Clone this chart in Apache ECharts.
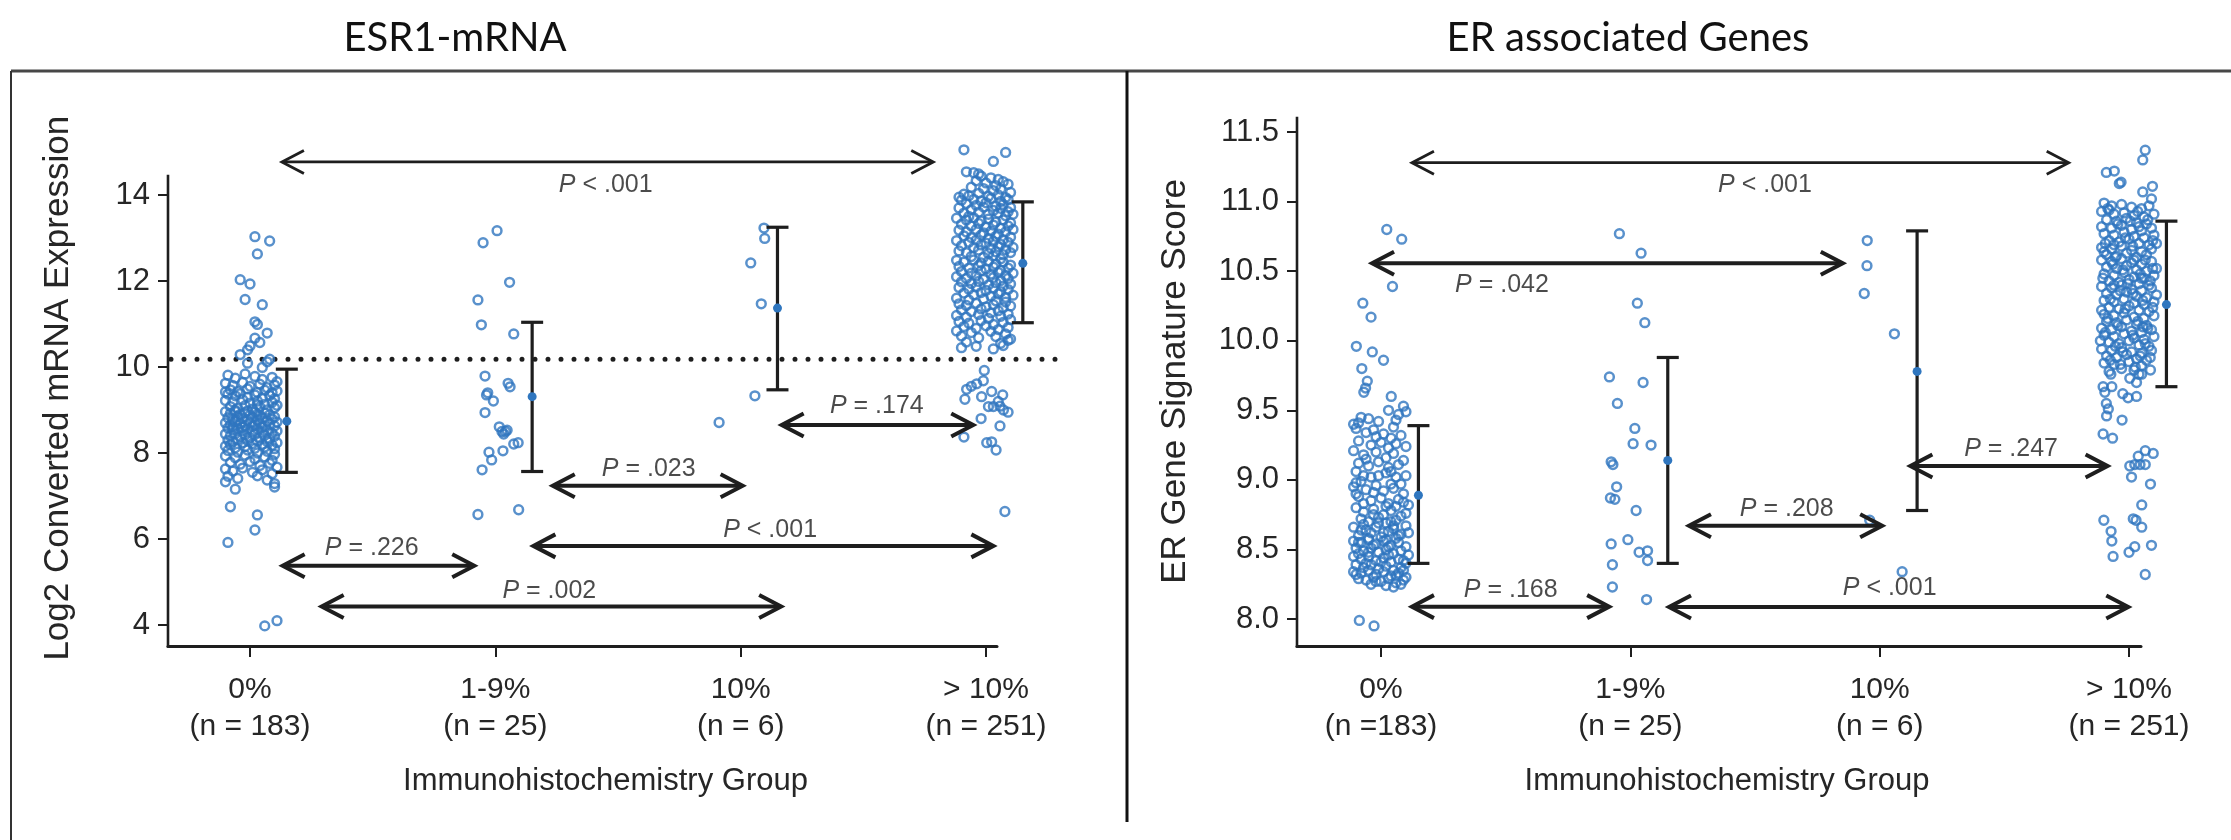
<!DOCTYPE html>
<html>
<head>
<meta charset="utf-8">
<script src="https://cdn.jsdelivr.net/npm/echarts@6/dist/echarts.min.js"></script>
<style>
  html, body { margin: 0; padding: 0; background: #fff; }
  #chart { width: 2231px; height: 840px; }
</style>
</head>
<body>
<div id="chart"></div>
<script>
// ---------- categories and tick labels ----------
const groupNames = ['0%', '1-9%', '10%', '> 10%'];
const esrCounts = ['(n = 183)', '(n = 25)', '(n = 6)', '(n = 251)'];
const erCounts = ['(n =183)', '(n = 25)', '(n = 6)', '(n = 251)'];
const esrTicks = [4, 6, 8, 10, 12, 14];
const erTicks = [8.0, 8.5, 9.0, 9.5, 10.0, 10.5, 11.0, 11.5];

// ---------- ESR1-mRNA: per-sample values as [jitter, log2 expression] ----------
const esrPct0 = [
  [0.02,13.03],[0.08,12.93],[0.03,12.63],[-0.04,12.03],[0.00,11.93],[-0.02,11.57],[0.05,11.45],[0.02,11.05],[0.03,10.99],[0.07,10.79],
  [0.02,10.67],[0.04,10.57],[0.00,10.49],[-0.01,10.40],[-0.04,10.29],[-0.01,10.09],[0.08,10.18],[0.05,9.99],[0.07,10.12],
  [-0.09,9.81],[-0.06,9.74],[-0.02,9.84],[0.02,9.78],[0.05,9.71],[0.09,9.76],[0.11,9.66],[-0.10,9.62],[-0.07,9.57],[-0.03,9.64],
  [0.00,9.55],[0.04,9.60],[0.07,9.52],[0.10,9.58],[-0.08,9.47],[-0.05,9.43],[-0.01,9.49],[0.03,9.41],[0.06,9.46],[0.09,9.40],[0.11,9.44],[-0.10,9.42],
  [-0.09,9.37],[-0.06,9.33],[-0.04,9.38],[-0.01,9.30],[0.02,9.35],[0.05,9.28],[0.08,9.34],[0.10,9.26],[-0.10,9.22],[-0.07,9.19],
  [-0.03,9.24],[0.00,9.16],[0.03,9.21],[0.06,9.13],[0.09,9.18],[0.11,9.11],[-0.08,9.08],[-0.05,9.04],[-0.02,9.10],[0.01,9.02],
  [0.04,9.07],[0.07,9.00],[0.10,9.05],[-0.06,8.99],[0.03,9.12],
  [-0.10,8.96],[-0.08,8.92],[-0.06,8.97],[-0.04,8.90],[-0.02,8.94],[0.00,8.88],[0.02,8.95],[0.04,8.86],[0.06,8.93],[0.08,8.89],[0.10,8.84],
  [-0.09,8.82],[-0.07,8.78],[-0.05,8.85],[-0.03,8.80],[-0.01,8.76],[0.01,8.83],[0.03,8.77],[0.05,8.81],[0.07,8.74],[0.09,8.79],[0.11,8.72],
  [-0.10,8.70],[-0.08,8.66],[-0.06,8.73],[-0.04,8.68],[-0.02,8.64],[0.00,8.71],[0.02,8.65],[0.04,8.69],[0.06,8.62],[0.08,8.67],[0.10,8.63],
  [-0.07,8.61],[-0.03,8.60],[0.01,8.62],[0.05,8.60],[-0.05,8.75],[0.03,8.90],[-0.01,8.98],
  [-0.09,8.58],[-0.07,8.54],[-0.05,8.57],[-0.03,8.52],[-0.01,8.56],[0.01,8.50],[0.03,8.55],[0.05,8.48],[0.07,8.53],[0.09,8.46],[0.11,8.51],
  [-0.10,8.44],[-0.08,8.40],[-0.06,8.45],[-0.04,8.38],[-0.02,8.42],[0.00,8.36],[0.02,8.43],[0.04,8.35],[0.06,8.41],[0.08,8.33],[0.10,8.39],
  [-0.09,8.30],[-0.07,8.26],[-0.05,8.32],[-0.03,8.24],[-0.01,8.29],[0.01,8.22],[0.03,8.28],[0.05,8.20],[0.07,8.27],[0.09,8.18],[0.11,8.24],
  [-0.10,8.16],[-0.06,8.12],[-0.02,8.15],[0.02,8.11],[0.06,8.14],[0.10,8.10],[-0.08,8.19],
  [-0.09,8.06],[-0.05,8.02],[-0.01,8.07],[0.03,8.00],[0.07,8.04],[0.10,7.97],[-0.10,7.93],[-0.06,7.89],[-0.02,7.95],[0.02,7.86],
  [0.06,7.91],[0.09,7.83],[-0.08,7.78],[-0.04,7.74],[0.00,7.80],[0.04,7.71],[0.08,7.76],[0.11,7.67],[-0.10,7.63],[-0.07,7.58],
  [-0.03,7.65],[0.01,7.55],[0.05,7.61],[0.09,7.52],[-0.09,7.46],[-0.05,7.41],[0.03,7.47],[0.07,7.37],[0.10,7.29],[-0.10,7.33],[0.10,7.21],
  [-0.06,7.16],[-0.08,6.75],[0.03,6.56],[0.02,6.21],[-0.09,5.92],[0.06,3.98],[0.11,4.10]
];
const esrPct1to9 = [
  [0.007,13.17],[-0.05,12.89],[0.058,11.97],[-0.071,11.56],[-0.057,10.98],[0.075,10.77],[-0.042,9.79],[0.052,9.62],[0.060,9.54],
  [-0.036,9.35],[-0.031,9.40],[-0.008,9.21],[-0.042,8.94],[0.016,8.61],[0.027,8.50],[0.041,8.50],[0.048,8.53],[0.034,8.44],
  [0.075,8.21],[0.093,8.24],[-0.026,8.02],[-0.015,7.84],[0.031,8.05],[-0.054,7.61],[-0.071,6.57],[0.095,6.68]
];
const esrPct10 = [
  [0.095,13.23],[0.098,12.99],[0.041,12.42],[0.084,11.47],[0.058,9.33],[-0.088,8.71]
];
const esrPctOver10 = [
  [-0.09,15.05],[0.08,14.99],[0.03,14.78],[-0.08,14.54],[-0.05,14.52],[-0.03,14.49],
  [-0.02,14.44],[0.02,14.40],[0.05,14.36],[0.07,14.31],[0.09,14.25],[-0.04,14.33],[0.00,14.28],[0.04,14.22],[-0.06,14.18],[-0.01,14.15],
  [0.03,14.10],[0.06,14.14],[0.10,14.06],[-0.09,14.02],[-0.11,13.95],[-0.07,13.98],[-0.03,14.04],[0.01,13.97],[0.05,14.00],[0.08,13.94],
  [-0.10,13.88],[-0.05,13.90],[-0.02,13.86],[0.02,13.92],[0.06,13.85],[0.09,13.89],[-0.08,13.80],[-0.04,13.76],[0.00,13.82],[0.04,13.74],
  [0.07,13.78],[0.10,13.71],[-0.11,13.70],[-0.06,13.66],[-0.01,13.72],[0.03,13.64],[0.06,13.69],[0.09,13.61],[-0.09,13.58],[-0.03,13.60],
  [0.01,13.55],[0.05,13.58],[0.08,13.52],[-0.07,13.50],[0.11,13.55],
  [-0.12,13.46],[-0.08,13.42],[-0.05,13.47],[-0.02,13.40],[0.01,13.44],[0.04,13.37],[0.07,13.42],[0.10,13.35],[-0.10,13.32],[-0.06,13.28],
  [-0.03,13.34],[0.00,13.26],[0.03,13.30],[0.06,13.23],[0.09,13.28],[0.11,13.20],[-0.11,13.18],[-0.08,13.14],[-0.04,13.20],[-0.01,13.12],
  [0.02,13.16],[0.05,13.09],[0.08,13.14],[-0.09,13.05],[-0.06,13.01],[-0.02,13.07],[0.01,12.99],[0.04,13.04],[0.07,12.96],[0.10,13.02],
  [-0.12,12.94],[-0.07,12.90],[-0.04,12.95],[0.00,12.88],[0.03,12.92],[0.06,12.85],[0.09,12.90],[-0.10,12.82],[-0.05,12.78],[-0.02,12.84],
  [0.02,12.76],[0.05,12.80],[0.08,12.73],[0.11,12.78],[-0.11,12.70],[-0.08,12.66],[-0.03,12.72],[0.01,12.64],[0.04,12.68],[0.07,12.61],
  [0.10,12.66],[-0.06,12.57],[-0.01,12.55],[0.03,12.58],[0.06,12.52],
  [-0.12,12.48],[-0.09,12.44],[-0.05,12.49],[-0.02,12.42],[0.01,12.46],[0.04,12.39],[0.07,12.44],[0.10,12.37],[-0.11,12.34],[-0.07,12.30],
  [-0.03,12.36],[0.00,12.28],[0.03,12.32],[0.06,12.25],[0.09,12.30],[-0.10,12.22],[-0.06,12.18],[-0.02,12.24],[0.02,12.16],[0.05,12.20],
  [0.08,12.13],[0.11,12.18],[-0.12,12.10],[-0.08,12.06],[-0.04,12.12],[-0.01,12.04],[0.03,12.08],[0.06,12.01],[0.09,12.06],[-0.10,11.98],
  [-0.06,11.94],[-0.03,11.99],[0.01,11.91],[0.04,11.96],[0.07,11.88],[0.10,11.93],[-0.11,11.85],[-0.07,11.81],[-0.04,11.86],[0.00,11.78],
  [0.03,11.83],[0.06,11.75],[0.09,11.80],[-0.09,11.72],[-0.05,11.68],[-0.02,11.73],[0.02,11.65],[0.05,11.70],[0.08,11.62],[0.11,11.67],
  [-0.12,11.60],[-0.07,11.56],[-0.01,11.58],[0.04,11.54],[0.08,11.51],
  [-0.11,11.47],[-0.08,11.43],[-0.04,11.48],[0.00,11.40],[0.03,11.45],[0.07,11.38],[0.10,11.42],[-0.10,11.33],[-0.06,11.29],[-0.02,11.35],
  [0.02,11.26],[0.05,11.31],[0.09,11.23],[-0.12,11.20],[-0.08,11.16],[-0.03,11.22],[0.01,11.13],[0.06,11.18],[0.10,11.10],[-0.11,11.06],
  [-0.07,11.02],[-0.02,11.08],[0.03,10.99],[0.07,11.04],[-0.09,10.94],[-0.04,10.90],[0.00,10.96],[0.05,10.87],[0.09,10.92],[-0.12,10.84],
  [-0.06,10.80],[0.02,10.83],[0.08,10.77],[-0.10,10.72],[-0.03,10.68],[0.04,10.71],[0.10,10.65],[-0.08,10.58],[0.06,10.55],[0.09,10.62],
  [-0.04,10.48],[0.03,10.42],[0.07,10.50],[-0.10,10.45],
  [-0.007,9.92],[-0.038,9.61],[-0.011,9.68],[-0.079,9.48],[-0.086,9.25],[-0.018,9.31],[0.023,9.43],[0.068,9.35],[0.010,9.08],[0.030,9.08],
  [0.057,9.09],[0.071,9.00],[0.057,8.63],[-0.090,8.37],[0.003,8.24],[0.041,8.07],[0.023,8.26],[0.077,6.64],[-0.06,9.55],[0.05,9.20],
  [0.09,8.95],[-0.02,8.80]
];
// mean and spread per group: [mean, low, high]
const esrSummary = [[8.74, 7.55, 9.95], [9.31, 7.57, 11.04], [11.37, 9.47, 13.25], [12.41, 11.03, 13.84]];
const esrCutoff = 10.18;
// pairwise comparisons: [from, to, level, relation, p]
const esrTests = [
  [1.13, 3.785, 14.77, '<', '.001'],
  [1.133, 1.914, 5.38, '=', '.226'],
  [1.292, 3.165, 4.43, '=', '.002'],
  [2.234, 3.008, 7.24, '=', '.023'],
  [2.155, 4.03, 5.84, '<', '.001'],
  [3.167, 3.948, 8.65, '=', '.174']
];
// where each p-value label sits: [x, y]
const esrTestLabels = [[2.45, 14.23], [1.496, 5.79], [2.22, 4.79], [2.625, 7.63], [3.12, 6.21], [3.555, 9.09]];

// ---------- ER associated genes: [jitter, signature score] ----------
const erPct0 = [
  [0.023,10.80],[0.083,10.73],[0.046,10.39],[-0.073,10.27],[-0.040,10.17],[-0.099,9.96],[-0.035,9.92],[0.010,9.86],[-0.077,9.80],
  [-0.055,9.71],[-0.062,9.66],[-0.069,9.63],[0.041,9.60],
  [0.09,9.53],[0.10,9.49],[0.03,9.50],[0.07,9.47],[-0.08,9.45],[-0.05,9.44],[-0.11,9.40],[-0.01,9.42],[0.05,9.38],[-0.10,9.37],
  [-0.06,9.34],[-0.03,9.36],[0.01,9.33],[0.04,9.30],[0.08,9.32],[-0.09,9.28],[-0.04,9.25],[0.00,9.27],[0.03,9.23],[0.06,9.26],
  [-0.11,9.21],[-0.07,9.18],[-0.02,9.20],[0.02,9.16],[0.05,9.19],[0.09,9.14],[-0.09,9.12],[-0.05,9.10],[-0.01,9.13],[0.03,9.09],
  [0.07,9.11],[-0.10,9.06],[-0.07,9.03],[-0.04,9.02],[-0.01,9.03],[0.02,9.05],[0.06,9.02],[0.10,9.03],[-0.08,8.99],[0.04,8.97],
  [-0.11,8.95],[-0.06,8.93],[-0.02,8.96],[0.01,8.92],[0.05,8.94],[0.09,8.90],[-0.09,8.88],[-0.04,8.85],[0.00,8.87],[0.03,8.83],
  [0.07,8.86],[0.11,8.82],[-0.10,8.80],[-0.07,8.77],[-0.03,8.79],[0.01,8.75],[0.04,8.78],[0.08,8.74],[-0.08,8.72],[-0.05,8.70],
  [-0.01,8.73],[0.02,8.69],[0.06,8.71],[0.10,8.67],[-0.11,8.66],[-0.06,8.64],[-0.02,8.66],[0.01,8.62],[0.05,8.65],[0.08,8.61],
  [-0.09,8.60],[-0.04,8.62],[0.00,8.59],[0.03,8.63],[0.07,8.60],[-0.07,8.68],[0.04,8.70],[-0.03,8.75],[0.09,8.84],[-0.10,8.90],
  [0.06,8.81],[-0.05,8.58],[0.02,8.57],[0.11,8.62],[-0.08,8.64],
  [-0.11,8.56],[-0.08,8.55],[-0.05,8.57],[-0.02,8.54],[0.01,8.56],[0.04,8.53],[0.07,8.55],[0.10,8.52],[-0.10,8.51],[-0.07,8.49],
  [-0.04,8.51],[-0.01,8.48],[0.02,8.50],[0.05,8.47],[0.08,8.49],[0.11,8.46],[-0.11,8.45],[-0.08,8.43],[-0.05,8.45],[-0.02,8.42],
  [0.01,8.44],[0.04,8.41],[0.07,8.43],[0.10,8.40],[-0.10,8.39],[-0.07,8.37],[-0.04,8.39],[-0.01,8.36],[0.02,8.38],[0.05,8.35],
  [0.08,8.37],[-0.11,8.34],[-0.08,8.33],[-0.05,8.35],[-0.02,8.32],[0.01,8.34],[0.04,8.31],[0.07,8.33],[0.10,8.30],[-0.09,8.29],
  [-0.06,8.28],[-0.03,8.30],[0.00,8.27],[0.03,8.29],[0.06,8.26],[0.09,8.28],[-0.04,8.25],[0.02,8.24],[0.05,8.23],[0.08,8.25],
  [-0.10,8.32],[-0.06,8.40],[0.03,8.46],[0.09,8.42],[-0.03,8.53],[0.06,8.58],[-0.09,8.47],[0.00,8.41],
  [-0.09,9.41],[0.06,9.43],[-0.02,9.31],[0.10,9.24],[-0.06,9.15],[0.04,9.06],[-0.10,8.98],[0.08,8.97],[-0.03,8.91],[0.02,8.81],
  [-0.07,8.83],[0.10,8.76],[-0.01,8.69],[0.05,8.67],[-0.09,8.55],[0.03,8.52],[-0.05,8.48],[0.09,8.35],[-0.02,8.27],[0.06,8.31],
  [-0.087,7.99],[-0.028,7.95]
];
const erPct1to9 = [
  [-0.044,10.77],[0.043,10.63],[0.028,10.27],[0.058,10.13],[-0.084,9.74],[0.051,9.70],[-0.052,9.55],[0.018,9.37],[0.011,9.26],
  [0.083,9.25],[-0.077,9.13],[-0.070,9.11],[-0.055,8.95],[-0.080,8.87],[-0.062,8.86],[0.023,8.78],[-0.077,8.54],[-0.010,8.57],
  [0.035,8.48],[0.069,8.49],[0.069,8.42],[-0.072,8.39],[-0.072,8.23],[0.065,8.14]
];
const erPct10 = [
  [-0.050,10.72],[-0.051,10.54],[-0.062,10.34],[0.059,10.05],[-0.040,8.71],[0.090,8.34]
];
const erPctOver10 = [
  [0.065,11.37],[0.055,11.30],[-0.091,11.21],[-0.059,11.22],[-0.032,11.14],[-0.039,11.13],[0.094,11.11],[0.055,11.07],[0.090,11.02],
  [-0.10,10.99],[-0.07,10.97],[-0.03,10.98],[0.01,10.96],[0.05,10.95],[0.08,10.97],[-0.11,10.93],[-0.06,10.91],[-0.02,10.92],[0.02,10.90],
  [0.06,10.89],[0.10,10.91],[-0.09,10.87],[-0.05,10.86],[-0.01,10.88],[0.03,10.85],[0.07,10.84],[-0.11,10.82],[-0.07,10.81],[-0.03,10.83],
  [0.01,10.80],[0.05,10.79],[0.09,10.81],[-0.10,10.77],[-0.06,10.76],[-0.02,10.78],[0.02,10.75],[0.06,10.74],[0.10,10.76],[-0.08,10.72],
  [-0.04,10.71],[0.00,10.73],[0.04,10.70],[0.08,10.69],[-0.11,10.67],[-0.07,10.66],[-0.03,10.68],[0.01,10.65],[0.05,10.64],[0.09,10.66],
  [-0.09,10.62],[-0.05,10.61],[-0.01,10.63],[0.03,10.60],[0.07,10.62],[-0.10,10.64],[0.11,10.70],[-0.06,10.69],[0.04,10.82],[-0.08,10.94],
  [-0.11,10.58],[-0.07,10.57],[-0.03,10.59],[0.01,10.56],[0.05,10.55],[0.09,10.57],[-0.09,10.53],[-0.05,10.52],[-0.01,10.54],[0.03,10.51],
  [0.07,10.50],[0.11,10.52],[-0.10,10.48],[-0.06,10.47],[-0.02,10.49],[0.02,10.46],[0.06,10.45],[0.10,10.47],[-0.08,10.43],[-0.04,10.42],
  [0.00,10.44],[0.04,10.41],[0.08,10.40],[-0.11,10.39],[-0.07,10.38],[-0.03,10.40],[0.01,10.37],[0.05,10.36],[0.09,10.38],[-0.09,10.34],
  [-0.05,10.33],[-0.01,10.35],[0.03,10.32],[0.07,10.31],[0.11,10.33],[-0.10,10.29],[-0.06,10.28],[-0.02,10.30],[0.02,10.27],[0.06,10.26],
  [0.10,10.28],[-0.08,10.24],[-0.04,10.23],[0.00,10.25],[0.04,10.22],[0.08,10.21],[-0.11,10.22],[-0.06,10.40],[0.05,10.45],[0.02,10.58],
  [-0.10,10.19],[-0.06,10.18],[-0.02,10.20],[0.02,10.17],[0.06,10.16],[0.10,10.18],[-0.09,10.14],[-0.05,10.13],[-0.01,10.15],[0.03,10.12],
  [0.07,10.11],[-0.11,10.09],[-0.07,10.08],[-0.03,10.10],[0.01,10.07],[0.05,10.06],[0.09,10.08],[-0.10,10.04],[-0.06,10.03],[-0.02,10.05],
  [0.02,10.02],[0.06,10.01],[0.10,10.03],[-0.08,9.99],[-0.04,9.98],[0.00,10.00],[0.04,9.97],[0.08,9.96],[-0.11,9.94],[-0.07,9.93],
  [-0.03,9.95],[0.01,9.92],[0.05,9.91],[0.09,9.93],[-0.09,9.89],[-0.05,9.88],[-0.01,9.90],[0.03,9.87],[0.07,9.86],[-0.10,9.84],
  [-0.06,9.83],[0.00,9.85],[0.05,9.82],[-0.03,9.80],[0.02,9.79],[-0.08,9.78],[0.04,9.76],
  [-0.085,10.95],[0.035,10.93],[-0.045,10.84],[0.075,10.87],[-0.015,10.74],[0.095,10.72],[-0.095,10.70],[0.015,10.68],[-0.055,10.60],
  [0.065,10.58],[-0.025,10.51],[0.045,10.48],[-0.105,10.45],[0.085,10.43],[-0.035,10.36],[0.015,10.34],[-0.075,10.30],[0.055,10.29],
  [-0.015,10.23],[0.095,10.24],[-0.085,10.16],[0.035,10.14],[-0.045,10.11],[0.075,10.09],[-0.095,10.06],[0.015,10.04],[-0.055,9.96],
  [0.065,9.98],[-0.025,9.92],[0.045,9.89],[-0.075,9.86],[0.085,9.88],[-0.035,9.83],[0.025,9.81],[0.095,10.52],[-0.065,10.55],
  [0.005,10.86],[-0.005,10.41],[0.055,10.10],[-0.115,10.00],
  [-0.073,9.76],[-0.104,9.67],[-0.069,9.67],[-0.097,9.63],[-0.091,9.55],[-0.083,9.51],[-0.090,9.46],[-0.028,9.43],[-0.025,9.62],
  [-0.004,9.59],[0.030,9.60],[0.003,9.73],[0.030,9.70],[0.051,9.76],[0.086,9.79],[-0.104,9.33],[-0.066,9.30],[0.065,9.21],[0.097,9.19],
  [0.037,9.17],[0.003,9.10],[0.023,9.11],[0.044,9.11],[0.065,9.11],[0.010,9.02],[0.086,8.97],[0.051,8.82],[-0.101,8.71],[0.017,8.72],
  [0.028,8.71],[0.051,8.66],[-0.072,8.63],[-0.069,8.56],[0.090,8.53],[0.023,8.52],[0.000,8.48],[-0.064,8.45],[0.065,8.32]
];
const erSummary = [[8.89, 8.40, 9.39], [9.14, 8.40, 9.88], [9.78, 8.78, 10.79], [10.26, 9.67, 10.86]];
const erTests = [
  [1.124, 3.758, 11.28, '<', '.001'],
  [0.964, 2.852, 10.557, '=', '.042'],
  [1.124, 1.915, 8.089, '=', '.168'],
  [2.155, 3.997, 8.086, '<', '.001'],
  [2.235, 3.01, 8.67, '=', '.208'],
  [3.123, 3.914, 9.10, '=', '.247']
];
const erTestLabels = [[2.54, 11.12], [1.485, 10.40], [1.52, 8.205], [3.04, 8.22], [2.627, 8.79], [3.527, 9.22]];

// ---------- drawing ----------
const BLUE = '#2f76bf';
const INK = '#1e1e1e';
const TEXT = '#262626';
const SANS = "'Liberation Sans', Arial, Helvetica, sans-serif";
const BAR_SHIFT = 0.15;   // error bars sit just right of each group

function toPoints(groups) {
  const out = [];
  groups.forEach((g, i) => g.forEach(([d, v]) => out.push([i + 1 + d, v])));
  return out;
}

function renderErrorBar(params, api) {
  const x = api.value(0);
  const top = api.coord([x, api.value(3)]);
  const bot = api.coord([x, api.value(2)]);
  const mid = api.coord([x, api.value(1)]);
  const half = 11;
  const st = { stroke: INK, lineWidth: 3.2 };
  return {
    type: 'group',
    children: [
      { type: 'line', shape: { x1: top[0], y1: top[1], x2: bot[0], y2: bot[1] }, style: st },
      { type: 'line', shape: { x1: top[0] - half, y1: top[1], x2: top[0] + half, y2: top[1] }, style: st },
      { type: 'line', shape: { x1: bot[0] - half, y1: bot[1], x2: bot[0] + half, y2: bot[1] }, style: st },
      { type: 'circle', shape: { cx: mid[0], cy: mid[1], r: 4.5 }, style: { fill: BLUE } }
    ]
  };
}

function renderArrow(params, api) {
  const y = api.value(2);
  const a = api.coord([api.value(0), y]);
  const b = api.coord([api.value(1), y]);
  const w = params.dataIndex === 0 ? 2.8 : 4;
  const hl = 22, hh = 11.5;
  const st = { stroke: INK, lineWidth: w, fill: null, lineJoin: 'miter' };
  return {
    type: 'group',
    children: [
      { type: 'line', shape: { x1: a[0] + 2, y1: a[1], x2: b[0] - 2, y2: b[1] }, style: st },
      { type: 'polyline', shape: { points: [[a[0] + hl, a[1] - hh], [a[0], a[1]], [a[0] + hl, a[1] + hh]] }, style: st },
      { type: 'polyline', shape: { points: [[b[0] - hl, b[1] - hh], [b[0], b[1]], [b[0] - hl, b[1] + hh]] }, style: st }
    ]
  };
}

function renderVLine(params, api) {
  const x = api.value(0);
  const a = api.coord([x, api.value(1)]);
  const b = api.coord([x, api.value(2)]);
  return { type: 'line', shape: { x1: a[0], y1: a[1] + 1.5, x2: b[0], y2: b[1] }, style: { stroke: INK, lineWidth: 2.6 } };
}

function renderDotted(params, api) {
  const y = api.value(2);
  const a = api.coord([api.value(0), y]);
  const b = api.coord([api.value(1), y]);
  return {
    type: 'line',
    shape: { x1: a[0] + 3, y1: a[1], x2: b[0], y2: b[1] },
    style: { stroke: INK, lineWidth: 5, lineCap: 'round', lineDash: [0, 13] }
  };
}

const pLabelRich = {
  i: { fontFamily: SANS, fontStyle: 'italic', fontSize: 25, color: INK },
  t: { fontFamily: SANS, fontSize: 25, color: INK }
};

function panel(idx, groups, summary, tests, labels, xMin, yMin, yAxisTop) {
  return [
    {
      type: 'scatter', xAxisIndex: idx, yAxisIndex: idx, clip: false, silent: true, z: 3,
      data: toPoints(groups), symbol: 'circle', symbolSize: 8.8,
      itemStyle: { color: 'rgba(255,255,255,0)', borderColor: BLUE, borderWidth: 2.5 }
    },
    {
      type: 'custom', xAxisIndex: idx, yAxisIndex: idx, clip: false, silent: true, z: 4,
      data: summary.map((s, i) => [i + 1 + BAR_SHIFT, s[0], s[1], s[2]]),
      encode: { x: 0, y: [1, 2, 3] }, renderItem: renderErrorBar
    },
    {
      type: 'custom', xAxisIndex: idx, yAxisIndex: idx, clip: false, silent: true, z: 4,
      data: tests.map(t => [t[0], t[1], t[2]]),
      encode: { x: [0, 1], y: 2 }, renderItem: renderArrow
    },
    {
      type: 'scatter', xAxisIndex: idx, yAxisIndex: idx, clip: false, silent: true, z: 5,
      symbolSize: 0,
      data: labels.map((p, i) => ({ value: p, rel: tests[i][3], p: tests[i][4] })),
      label: {
        show: true, position: 'inside',
        formatter: (pr) => '{i|P}{t| ' + pr.data.rel + ' ' + pr.data.p + '}',
        rich: pLabelRich
      }
    },
    {
      // vertical axis line, stopping just above the top tick
      type: 'custom', xAxisIndex: idx, yAxisIndex: idx, clip: false, silent: true, z: 4,
      data: [[xMin, yMin, yAxisTop]], encode: { x: 0, y: [1, 2] }, renderItem: renderVLine
    }
  ];
}

const xMinL = 0.6657, xMaxL = 4.0448;
const xMinR = 0.663, xMaxR = 4.048;
const yMinL = 3.512, yMaxL = 15.5;
const yMinR = 7.806, yMaxR = 11.61;

function xAxisCfg(grid, xMin, xMax, counts, nameShift) {
  return {
    type: 'value', gridIndex: grid, min: xMin, max: xMax,
    axisLine: { show: true, onZero: false, lineStyle: { color: INK, width: 3 } },
    axisTick: { show: true, customValues: [1, 2, 3, 4], length: 11, lineStyle: { color: INK, width: 2 } },
    axisLabel: {
      show: true, customValues: [1, 2, 3, 4], margin: 25,
      formatter: (v) => groupNames[Math.round(v) - 1] + '\n' + counts[Math.round(v) - 1],
      fontFamily: SANS, fontSize: 30, lineHeight: 37, color: TEXT
    },
    splitLine: { show: false },
    name: 'Immunohistochemistry Group', nameLocation: 'middle', nameGap: 120,
    nameTextStyle: { fontFamily: SANS, fontSize: 31, color: TEXT, padding: [0, 0, 0, nameShift] }
  };
}

function yAxisCfg(grid, yMin, yMax, ticks, name, fmt, gap) {
  return {
    type: 'value', gridIndex: grid, min: yMin, max: yMax,
    axisLine: { show: false },
    axisTick: { show: true, customValues: ticks, length: 10, lineStyle: { color: INK, width: 2 } },
    axisLabel: {
      show: true, customValues: ticks, margin: 18, formatter: fmt,
      fontFamily: SANS, fontSize: 31, color: TEXT
    },
    splitLine: { show: false },
    name: name, nameLocation: 'middle', nameRotate: 90, nameGap: gap,
    nameTextStyle: { fontFamily: SANS, fontSize: 35, color: TEXT }
  };
}

const leftSeries = panel(0, [esrPct0, esrPct1to9, esrPct10, esrPctOver10], esrSummary, esrTests, esrTestLabels, xMinL, yMinL, 14.47);
const rightSeries = panel(1, [erPct0, erPct1to9, erPct10, erPctOver10], erSummary, erTests, erTestLabels, xMinR, yMinR, 11.61);
// ER-positivity cut-off on the mRNA panel
leftSeries.push({
  type: 'custom', xAxisIndex: 0, yAxisIndex: 0, clip: false, silent: true, z: 2,
  data: [[xMinL, 4.314, esrCutoff]], encode: { x: [0, 1], y: 2 }, renderItem: renderDotted
});

const chart = echarts.init(document.getElementById('chart'));
chart.setOption({
  animation: false,
  backgroundColor: '#ffffff',
  grid: [
    { left: 168, top: 130.5, width: 829, height: 515.5 },
    { left: 1297, top: 116.8, width: 844, height: 529.2 }
  ],
  xAxis: [
    xAxisCfg(0, xMinL, xMaxL, esrCounts, 46),
    xAxisCfg(1, xMinR, xMaxR, erCounts, 16)
  ],
  yAxis: [
    yAxisCfg(0, yMinL, yMaxL, esrTicks, 'Log2 Converted mRNA Expression', (v) => String(v), 92),
    yAxisCfg(1, yMinR, yMaxR, erTicks, 'ER Gene Signature Score', (v) => v.toFixed(1), 104)
  ],
  graphic: [
    { type: 'line', shape: { x1: 11, y1: 71, x2: 2231, y2: 71 }, style: { stroke: '#474747', lineWidth: 3 } },
    { type: 'line', shape: { x1: 11, y1: 71, x2: 11, y2: 840 }, style: { stroke: '#333', lineWidth: 2 } },
    { type: 'line', shape: { x1: 1127, y1: 71, x2: 1127, y2: 822 }, style: { stroke: '#111', lineWidth: 3 } },
    { type: 'text', x: 455, y: 38, style: { text: 'ESR1-mRNA', font: "40px Lato, 'Open Sans', sans-serif", fill: '#111', align: 'center', verticalAlign: 'middle' } },
    { type: 'text', x: 1628, y: 38, style: { text: 'ER associated Genes', font: "40px Lato, 'Open Sans', sans-serif", fill: '#111', align: 'center', verticalAlign: 'middle' } }
  ],
  series: leftSeries.concat(rightSeries)
});
</script>
</body>
</html>
